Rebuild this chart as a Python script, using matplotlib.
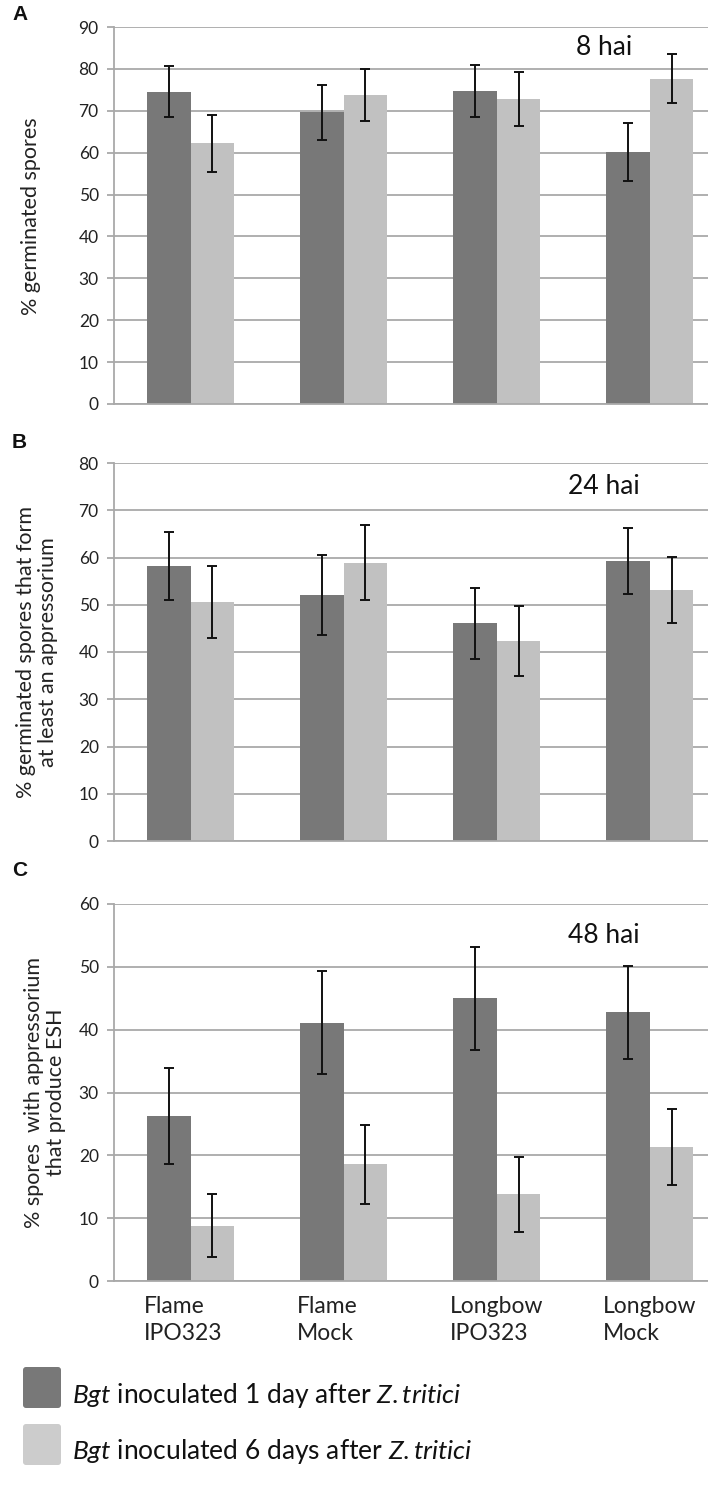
import numpy as np
import matplotlib
matplotlib.use("Agg")
import matplotlib.pyplot as plt
from matplotlib.patches import FancyBboxPatch

plt.rcParams["font.family"] = ["Lato", "DejaVu Sans"]
plt.rcParams["mathtext.fontset"] = "custom"
plt.rcParams["mathtext.rm"] = "Lato"
plt.rcParams["mathtext.it"] = "Lato:italic"

groups = ["Flame\nIPO323", "Flame\nMock", "Longbow\nIPO323", "Longbow\nMock"]

# panel A - 8 hai
a_dark = [74.5, 69.6, 74.8, 60.1]
a_dark_err = [6.1, 6.5, 6.2, 6.9]
a_light = [62.2, 73.8, 72.8, 77.7]
a_light_err = [6.8, 6.2, 6.4, 5.9]

# panel B - 24 hai
b_dark = [58.3, 52.0, 46.1, 59.2]
b_dark_err = [7.2, 8.5, 7.5, 7.0]
b_light = [50.6, 58.9, 42.4, 53.1]
b_light_err = [7.6, 8.0, 7.4, 7.0]

# panel C - 48 hai
c_dark = [26.3, 41.1, 45.0, 42.8]
c_dark_err = [7.6, 8.2, 8.2, 7.4]
c_light = [8.8, 18.6, 13.8, 21.3]
c_light_err = [5.0, 6.3, 6.0, 6.0]

DARK = "#787878"
LIGHT = "#c1c1c1"
GRID = "#a9a9a9"
W = 1488
H = 708


def fy(px):
    return 1 - px / W


def draw_panel(ax, dark, dark_err, light, light_err, ymax, step, tag, tag_y, show_x):
    x = np.arange(len(groups))
    bw = 0.285
    ax.bar(x - bw / 2, dark, bw, color=DARK, zorder=2)
    ax.bar(x + bw / 2, light, bw, color=LIGHT, zorder=2)
    ekw = dict(fmt="none", ecolor="#111111", elinewidth=1.4, capsize=3.5,
               capthick=1.4, zorder=3)
    ax.errorbar(x - bw / 2, dark, yerr=dark_err, **ekw)
    ax.errorbar(x + bw / 2, light, yerr=light_err, **ekw)

    ax.set_xlim(-0.5, 3.38)
    ax.set_ylim(0, ymax)
    ax.set_yticks(np.arange(0, ymax + 1, step))
    ax.yaxis.grid(True, color=GRID, linewidth=1.3, zorder=0)
    ax.set_axisbelow(True)
    for s in ["top", "right"]:
        ax.spines[s].set_visible(False)
    ax.spines["left"].set_color(GRID)
    ax.spines["left"].set_linewidth(1.3)
    ax.spines["bottom"].set_color(GRID)
    ax.spines["bottom"].set_linewidth(1.3)
    ax.tick_params(axis="y", length=5, color=GRID, width=1.3, labelsize=12.5,
                   pad=6, labelcolor="#222222")
    if show_x:
        ax.set_xticks(x - bw - 0.02)
        ax.set_xticklabels(groups, ha="left", fontsize=16.5, color="#222222",
                           linespacing=1.35)
        ax.tick_params(axis="x", length=0, pad=11)
    else:
        ax.set_xticks([])
    ax.text(0.825, tag_y / ymax, tag, transform=ax.transAxes, fontsize=19,
            ha="center", va="center", color="#111111")


fig = plt.figure(figsize=(7.08, 14.88), dpi=100)

ax_a = fig.add_axes([114 / H, fy(404), 1 - 114 / H, (404 - 27) / W])
ax_b = fig.add_axes([114 / H, fy(841), 1 - 114 / H, (841 - 463) / W])
ax_c = fig.add_axes([114 / H, fy(1281), 1 - 114 / H, (1281 - 904) / W])

draw_panel(ax_a, a_dark, a_dark_err, a_light, a_light_err, 90, 10, "8 hai", 85, False)
draw_panel(ax_b, b_dark, b_dark_err, b_light, b_light_err, 80, 10, "24 hai", 75, False)
draw_panel(ax_c, c_dark, c_dark_err, c_light, c_light_err, 60, 10, "48 hai", 55, True)

fig.text(31 / H, fy(216), "% germinated spores", rotation=90, ha="center",
         va="center", fontsize=15.5, color="#222222")
fig.text(37 / H, fy(652), "% germinated spores that form\nat least an appressorium",
         rotation=90, ha="center", va="center", fontsize=15.5, color="#222222",
         linespacing=1.1)
fig.text(45 / H, fy(1092), "% spores  with appressorium\nthat produce ESH",
         rotation=90, ha="center", va="center", fontsize=15.5, color="#222222",
         linespacing=1.1)

for lab, ypx in [("A", 14), ("B", 442), ("C", 871)]:
    fig.text(12 / H, fy(ypx), lab, fontsize=15, fontweight="bold",
             family="Liberation Sans", ha="left", va="center", color="#111111")

# legend drawn in a pixel-space overlay
lg = fig.add_axes([0, 0, 1, 150 / W])
lg.set_xlim(0, H)
lg.set_ylim(W, W - 150)
lg.axis("off")
legend_items = [
    (DARK, r"$\mathit{Bgt}$ inoculated 1 day after $\mathit{Z.tritici}$", 1366),
    ("#cccccc", r"$\mathit{Bgt}$ inoculated 6 days after $\mathit{Z.tritici}$", 1423),
]
for col, txt, top in legend_items:
    lg.add_patch(FancyBboxPatch((23, top + 1), 38, 41,
                                boxstyle="round,pad=0,rounding_size=3",
                                facecolor=col, edgecolor="none"))
    lg.text(72, top + 29, txt, fontsize=19, ha="left", va="center",
            color="#111111")

fig.savefig("out.png", dpi=100)
